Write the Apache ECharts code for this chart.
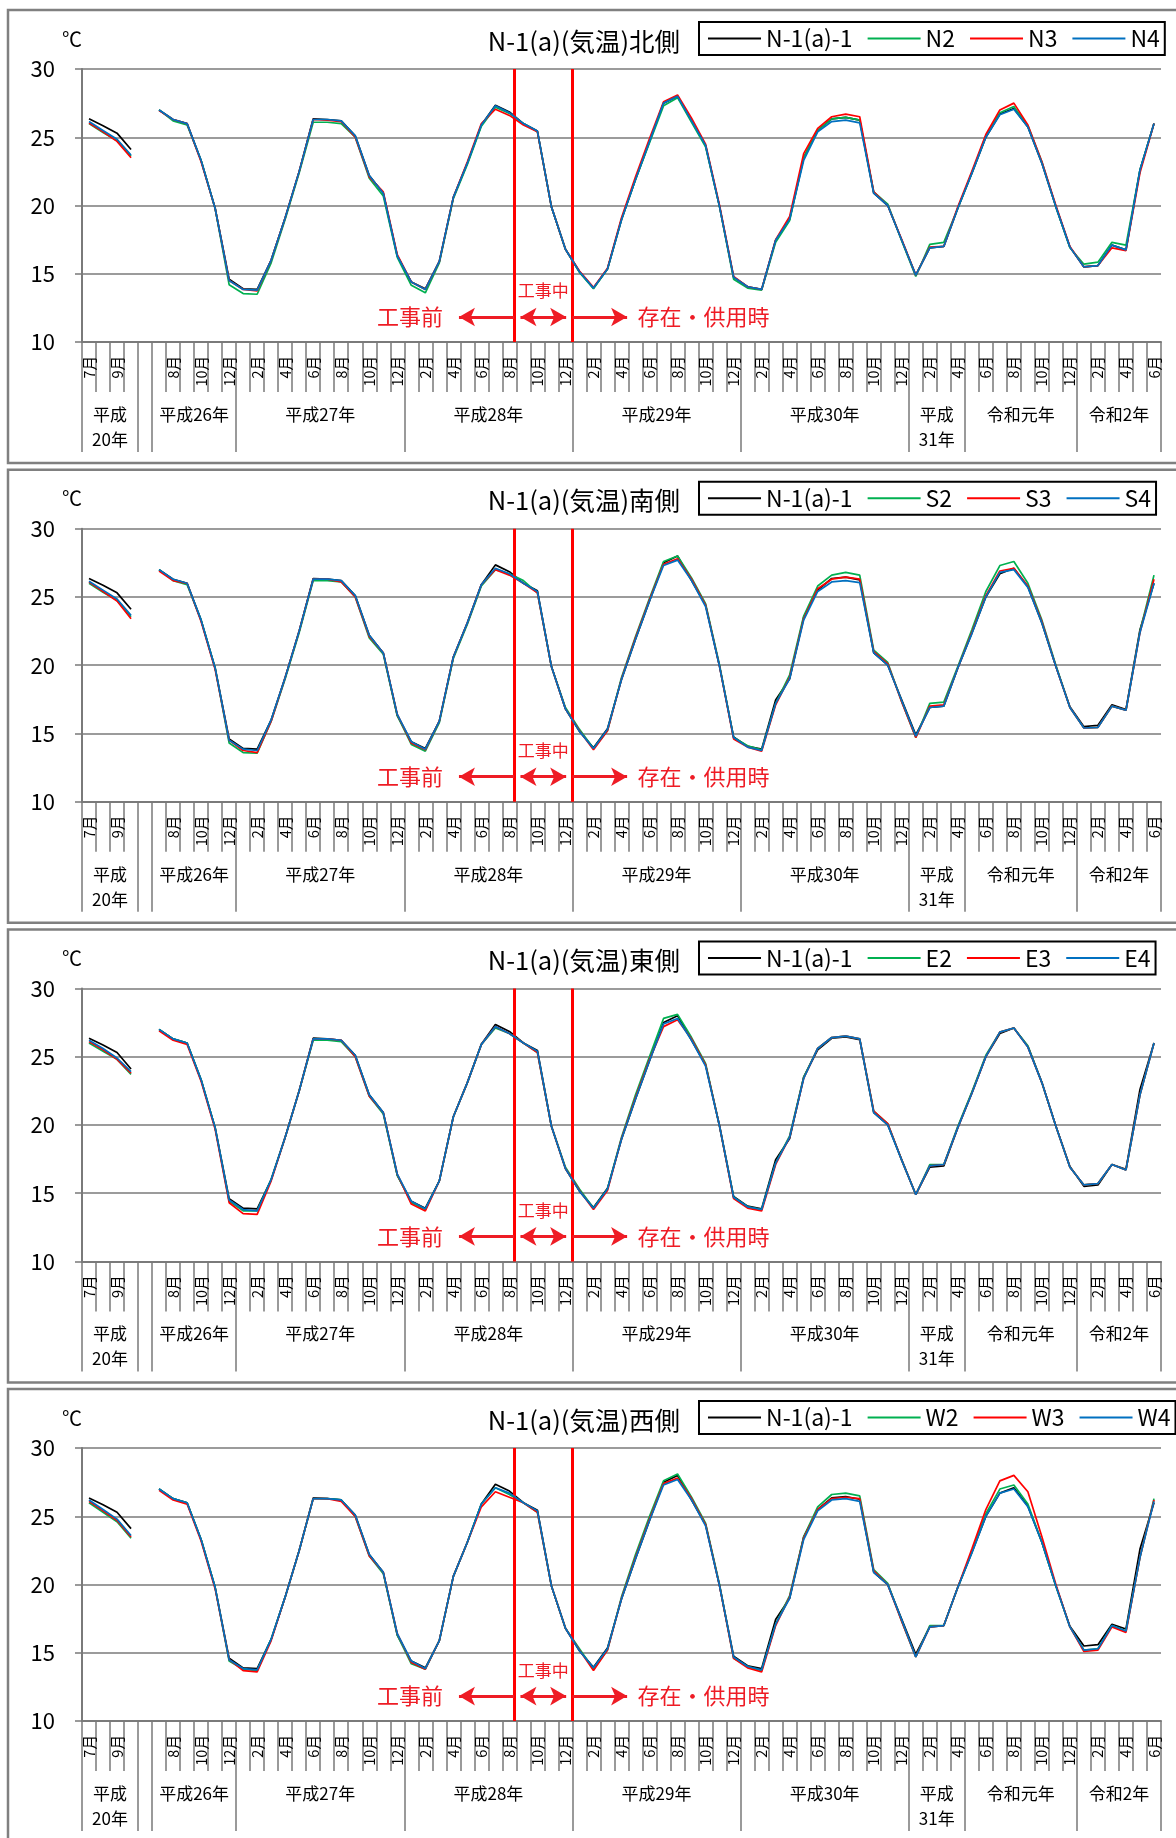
<!DOCTYPE html>
<html><head><meta charset="utf-8">
<script src="https://cdn.jsdelivr.net/npm/echarts@6/dist/echarts.min.js"></script>
<style>html,body{margin:0;padding:0;background:#fff;}#c{width:1176px;height:1838px;}</style>
</head><body><div id="c"></div>
<script>
// ---------- tick labels ----------
const months = [
  '7月','8月','9月','10月',
  '',
  '7月','8月','9月','10月','11月','12月',
  '1月','2月','3月','4月','5月','6月','7月','8月','9月','10月','11月','12月',
  '1月','2月','3月','4月','5月','6月','7月','8月','9月','10月','11月','12月',
  '1月','2月','3月','4月','5月','6月','7月','8月','9月','10月','11月','12月',
  '1月','2月','3月','4月','5月','6月','7月','8月','9月','10月','11月','12月',
  '1月','2月','3月','4月',
  '5月','6月','7月','8月','9月','10月','11月','12月',
  '1月','2月','3月','4月','5月','6月'
];
const yearBounds  = [0, 4, 5, 11, 23, 35, 47, 59, 63, 71, 77];
const yearCenters = [2, 8, 17, 29, 41, 53, 61, 67, 74];
const yearNames   = ['平成\n20年','平成26年','平成27年','平成28年','平成29年','平成30年','平成\n31年','令和元年','令和2年'];
const titles = ['N-1(a)(気温)北側','N-1(a)(気温)南側','N-1(a)(気温)東側','N-1(a)(気温)西側'];
const refName = 'N-1(a)-1';
const siteNames = [['N2','N3','N4'],['S2','S3','S4'],['E2','E3','E4'],['W2','W3','W4']];
const phaseLabels = ['工事前','工事中','存在・供用時'];
const phaseBounds = [30.84, 35];   // construction start / end, in month slots

// ---------- series values (°C) ----------
const ref = [26.35,25.85,25.3,24.1, null,
  27.0,26.3,26.0,23.3,19.8,14.6,
  13.9,13.85,16.0,19.1,22.5,26.35,26.3,26.2,25.1,22.2,20.9,16.3,
  14.4,13.9,15.9,20.6,23.1,25.9,27.35,26.85,26.0,25.45,19.9,16.8,
  15.15,13.95,15.35,18.95,21.9,24.7,27.5,28.0,26.2,24.4,19.9,14.75,
  14.05,13.85,17.45,19.0,23.5,25.5,26.35,26.45,26.25,20.9,20.0,17.45,
  14.9,16.9,17.0,19.8,
  22.35,25.0,26.7,27.1,25.75,23.1,19.9,16.95,
  15.5,15.6,17.1,16.75,22.6,26.0];
const n2 = [26.0,25.35,24.75,23.6, null,
  27.0,26.2,25.9,23.3,19.8,14.2,
  13.55,13.5,15.8,19.0,22.4,26.1,26.1,26.0,25.0,22.0,20.7,16.2,
  14.15,13.6,15.8,20.5,23.0,25.8,27.2,26.75,26.0,25.4,19.9,16.8,
  15.1,13.9,15.35,19.0,21.9,24.6,27.3,27.9,26.1,24.3,19.9,14.6,
  13.95,13.8,17.3,18.9,23.5,25.5,26.35,26.45,26.25,21.0,20.1,17.4,
  14.8,17.15,17.3,19.8,
  22.4,25.1,26.8,27.25,25.85,23.2,19.9,16.9,
  15.7,15.85,17.3,17.1,22.6,26.0];
const n3 = [26.05,25.4,24.7,23.5, null,
  26.95,26.3,26.0,23.2,19.8,14.5,
  13.85,13.75,16.0,19.1,22.5,26.3,26.25,26.15,25.0,22.1,21.0,16.4,
  14.4,13.85,15.9,20.6,23.2,26.0,27.05,26.6,25.9,25.4,19.9,16.8,
  15.2,14.0,15.4,19.1,22.1,24.9,27.6,28.1,26.4,24.5,20.0,14.8,
  14.05,13.85,17.5,19.2,23.8,25.65,26.5,26.7,26.5,21.0,20.0,17.5,
  14.9,16.95,17.0,19.9,
  22.5,25.2,27.0,27.5,25.9,23.2,20.0,17.0,
  15.5,15.6,16.9,16.7,22.4,26.0];
const n4 = [26.15,25.5,24.85,23.7, null,
  27.0,26.3,26.0,23.3,19.8,14.5,
  13.85,13.8,16.0,19.1,22.5,26.3,26.3,26.2,25.1,22.2,20.9,16.3,
  14.4,13.85,15.9,20.6,23.1,25.9,27.3,26.8,26.0,25.45,19.9,16.8,
  15.15,13.95,15.35,18.95,21.9,24.7,27.5,28.0,26.2,24.4,19.9,14.75,
  14.05,13.85,17.45,19.0,23.3,25.4,26.15,26.25,26.05,20.9,20.0,17.45,
  14.9,16.9,17.0,19.8,
  22.35,25.0,26.65,27.05,25.75,23.1,19.9,16.95,
  15.5,15.6,17.1,16.75,22.6,26.0];
const s2 = [26.0,25.35,24.75,23.55, null,
  27.0,26.2,25.9,23.3,19.8,14.3,
  13.6,13.55,15.9,19.0,22.4,26.2,26.2,26.1,25.0,22.0,20.8,16.3,
  14.2,13.7,15.8,20.5,23.0,25.8,27.0,26.7,26.2,25.3,19.9,16.9,
  15.3,13.9,15.2,19.1,22.1,24.9,27.6,28.0,26.4,24.5,20.0,14.7,
  14.1,13.8,17.2,19.3,23.6,25.8,26.6,26.8,26.6,21.1,20.2,17.3,
  14.7,17.2,17.3,19.9,
  22.6,25.4,27.3,27.6,26.0,23.3,20.0,16.9,
  15.4,15.45,17.0,16.7,22.5,26.6];
const s3 = [26.1,25.4,24.7,23.4, null,
  26.9,26.2,26.0,23.2,19.7,14.5,
  13.75,13.6,15.9,19.1,22.5,26.3,26.3,26.1,25.0,22.1,20.9,16.4,
  14.3,13.8,15.9,20.6,23.1,25.9,27.0,26.6,26.0,25.3,19.9,16.8,
  15.2,13.8,15.2,19.0,22.0,24.8,27.4,27.8,26.3,24.4,19.9,14.6,
  14.0,13.7,17.1,19.1,23.4,25.6,26.3,26.45,26.3,21.0,20.1,17.3,
  14.7,17.0,17.1,19.8,
  22.4,25.1,26.9,27.1,25.8,23.2,19.9,16.9,
  15.4,15.45,17.0,16.7,22.4,26.3];
const s4 = [26.15,25.5,24.85,23.65, null,
  27.0,26.3,26.0,23.3,19.8,14.5,
  13.85,13.75,16.0,19.1,22.5,26.3,26.3,26.2,25.1,22.2,20.9,16.4,
  14.4,13.85,15.9,20.6,23.1,25.9,27.1,26.7,26.0,25.4,19.9,16.8,
  15.15,13.9,15.3,18.95,21.9,24.7,27.3,27.7,26.2,24.3,19.9,14.7,
  14.0,13.75,17.2,19.0,23.3,25.4,26.1,26.2,26.05,20.9,20.0,17.4,
  14.8,16.9,17.0,19.8,
  22.3,25.0,26.8,27.0,25.7,23.1,19.9,16.9,
  15.4,15.45,17.0,16.7,22.4,26.0];
const e2 = [26.0,25.4,24.8,23.7, null,
  27.0,26.3,26.0,23.3,19.8,14.4,
  13.7,13.7,16.0,19.1,22.5,26.2,26.2,26.1,25.0,22.1,20.8,16.3,
  14.3,13.8,15.9,20.6,23.1,25.9,27.1,26.7,26.0,25.3,19.9,16.9,
  15.3,13.9,15.3,19.1,22.2,25.0,27.8,28.1,26.4,24.5,19.9,14.7,
  14.0,13.8,17.2,19.2,23.5,25.6,26.4,26.5,26.3,21.0,20.1,17.4,
  14.9,17.1,17.1,19.9,
  22.4,25.1,26.8,27.1,25.8,23.1,19.9,16.9,
  15.6,15.7,17.1,16.7,22.2,26.0];
const e3 = [26.1,25.5,24.8,23.8, null,
  26.9,26.2,25.9,23.2,19.7,14.3,
  13.5,13.45,15.9,19.1,22.5,26.3,26.3,26.2,25.0,22.1,20.9,16.4,
  14.2,13.7,15.9,20.6,23.1,25.9,27.2,26.7,26.0,25.3,19.9,16.8,
  15.2,13.8,15.2,19.0,22.0,24.8,27.2,27.7,26.3,24.4,19.9,14.6,
  13.9,13.7,17.1,19.1,23.4,25.6,26.4,26.5,26.3,21.0,20.1,17.4,
  14.9,17.0,17.1,19.8,
  22.3,25.0,26.8,27.1,25.7,23.1,19.9,16.9,
  15.6,15.7,17.1,16.7,22.2,26.0];
const e4 = [26.2,25.6,24.9,23.9, null,
  27.0,26.3,26.0,23.3,19.8,14.5,
  13.8,13.7,16.0,19.1,22.5,26.3,26.3,26.2,25.1,22.2,20.9,16.4,
  14.4,13.85,15.9,20.6,23.1,25.9,27.2,26.7,26.0,25.4,19.9,16.8,
  15.15,13.9,15.3,18.95,21.9,24.7,27.4,27.8,26.2,24.3,19.9,14.7,
  14.0,13.8,17.2,19.1,23.4,25.6,26.4,26.5,26.3,20.9,20.0,17.4,
  14.9,17.0,17.1,19.8,
  22.3,25.0,26.8,27.1,25.7,23.1,19.9,16.9,
  15.6,15.7,17.1,16.7,22.2,26.0];
const w2 = [26.0,25.3,24.6,23.4, null,
  27.0,26.3,26.0,23.3,19.8,14.4,
  13.8,13.7,16.0,19.1,22.5,26.3,26.3,26.2,25.0,22.1,20.8,16.3,
  14.2,13.8,15.9,20.6,23.1,25.9,27.1,26.6,26.0,25.3,19.9,16.8,
  15.3,13.8,15.2,19.1,22.2,25.0,27.6,28.1,26.4,24.5,20.0,14.6,
  14.0,13.7,17.1,19.2,23.5,25.7,26.6,26.7,26.5,21.1,20.1,17.3,
  14.7,17.0,17.0,19.8,
  22.4,25.2,27.0,27.3,25.9,23.1,19.9,16.9,
  15.2,15.3,17.0,16.6,22.0,26.3];
const w3 = [26.1,25.4,24.7,23.5, null,
  26.9,26.2,25.9,23.2,19.7,14.5,
  13.7,13.6,15.9,19.1,22.5,26.3,26.3,26.1,25.0,22.1,20.9,16.4,
  14.3,13.8,15.9,20.6,23.1,25.7,26.8,26.4,26.0,25.3,19.9,16.8,
  15.2,13.7,15.2,19.0,22.0,24.8,27.4,27.8,26.3,24.4,19.9,14.6,
  13.9,13.6,17.0,19.1,23.4,25.5,26.3,26.4,26.3,21.0,20.0,17.3,
  14.7,16.9,17.0,19.8,
  22.6,25.5,27.6,28.0,26.8,23.5,20.0,16.9,
  15.1,15.2,16.9,16.5,22.0,26.2];
const w4 = [26.2,25.5,24.8,23.6, null,
  27.0,26.3,26.0,23.3,19.8,14.5,
  13.85,13.75,16.0,19.1,22.5,26.3,26.3,26.2,25.1,22.2,20.9,16.4,
  14.4,13.85,15.9,20.6,23.1,25.9,27.1,26.7,26.0,25.4,19.9,16.8,
  15.15,13.9,15.3,18.95,21.9,24.7,27.3,27.7,26.2,24.3,19.9,14.7,
  14.0,13.75,17.1,19.0,23.3,25.4,26.2,26.3,26.1,20.9,20.0,17.4,
  14.7,16.9,17.0,19.8,
  22.3,25.0,26.7,27.0,25.7,23.1,19.9,16.9,
  15.2,15.3,17.0,16.6,22.0,26.1];
const panelData = [[n2,n3,n4],[s2,s3,s4],[e2,e3,e4],[w2,w3,w4]];

// ---------- layout / style ----------
const FONT = '"Noto Sans CJK JP","Noto Sans",sans-serif';
const STEP = 459.7;
const GL = 82, GT = 69, GW = 1079, GH = 273;
const GRAY = '#7a7a7a';
const RED = '#ff0000', RED_TXT = '#ee1c25';
const COLORS = ['#000000','#00b050','#ff0000','#0070c0'];
const ARROW_Y = 11.83, MID_Y = 13.74;

const option = {animation:false, grid:[], xAxis:[], yAxis:[], series:[], legend:[], graphic:[]};

for (let p = 0; p < 4; p++) {
  const dy = p * STEP;
  option.grid.push({left:GL, top:GT + dy, width:GW, height:GH});
  option.xAxis.push({
    type:'category', gridIndex:p, data:months, boundaryGap:true, position:'bottom',
    axisLine:{lineStyle:{color:GRAY, width:2}},
    axisTick:{show:true, interval:0, length:50, lineStyle:{color:GRAY, width:1.5}},
    axisLabel:{interval:1, rotate:90, margin:14, fontSize:14.5, color:'#000', fontFamily:FONT},
    splitLine:{show:false}
  });
  option.xAxis.push({
    type:'value', gridIndex:p, position:'bottom', min:0, max:77,
    axisLine:{show:false}, splitLine:{show:false},
    axisTick:{show:true, customValues:yearBounds, length:110, lineStyle:{color:GRAY, width:1.5}},
    axisLabel:{customValues:yearCenters, formatter:v => yearNames[yearCenters.indexOf(v)] || '',
      margin:60, fontSize:17, lineHeight:25, color:'#000', fontFamily:FONT}
  });
  option.yAxis.push({
    type:'value', gridIndex:p, min:10, max:30, interval:5,
    name:'℃', nameLocation:'end', nameGap:20,
    nameTextStyle:{fontSize:20, align:'right', color:'#000', fontFamily:FONT},
    axisLine:{show:true, lineStyle:{color:GRAY, width:2}},
    axisTick:{show:true, length:7, lineStyle:{color:GRAY, width:1.5}},
    axisLabel:{fontSize:22, margin:27, color:'#000', fontFamily:FONT},
    splitLine:{show:true, lineStyle:{color:GRAY, width:1.5}}
  });
  const names = [refName].concat(siteNames[p]);
  const datas = [ref].concat(panelData[p]);
  names.forEach((nm, k) => {
    option.series.push({
      type:'line', name:nm, xAxisIndex:2*p, yAxisIndex:p, data:datas[k],
      symbol:'none', connectNulls:false,
      lineStyle:{color:COLORS[k], width:1.7}, itemStyle:{color:COLORS[k]}, z:2+k
    });
  });
  const redLine = {color:RED, width:3, type:'solid'};
  const arrowLine = {color:RED_TXT, width:3, type:'solid'};
  option.series.push({
    type:'line', xAxisIndex:2*p+1, yAxisIndex:p, data:[], silent:true, z:10,
    markLine:{silent:true, animation:false, symbol:['none','none'], symbolSize:[14,16], label:{show:false},
      data:[
        {xAxis:phaseBounds[0], lineStyle:redLine},
        {xAxis:phaseBounds[1], lineStyle:redLine},
        [{coord:[phaseBounds[0], ARROW_Y], symbol:'none', lineStyle:arrowLine}, {coord:[26.9, ARROW_Y], symbol:'arrow'}],
        [{coord:[phaseBounds[0]+0.45, ARROW_Y], symbol:'arrow', lineStyle:arrowLine}, {coord:[phaseBounds[1]-0.45, ARROW_Y], symbol:'arrow'}],
        [{coord:[phaseBounds[1], ARROW_Y], symbol:'none', lineStyle:arrowLine}, {coord:[38.9, ARROW_Y], symbol:'arrow'}]
      ]},
    markPoint:{silent:true, animation:false, symbol:'circle', symbolSize:1, itemStyle:{color:'rgba(0,0,0,0)'},
      data:[
        {coord:[23.4, ARROW_Y], label:{show:true, position:'inside', formatter:phaseLabels[0], color:RED_TXT, fontSize:22, fontFamily:FONT}},
        {coord:[(phaseBounds[0]+phaseBounds[1])/2, MID_Y], label:{show:true, position:'inside', formatter:phaseLabels[1], color:RED_TXT, fontSize:17, fontFamily:FONT}},
        {coord:[44.36, ARROW_Y], label:{show:true, position:'inside', formatter:phaseLabels[2], color:RED_TXT, fontSize:22, fontFamily:FONT}}
      ]}
  });
  option.legend.push({
    data:names, left:699, top:22 + dy, orient:'horizontal', selectedMode:false,
    icon:'rect', itemWidth:53, itemHeight:2, itemGap:15,
    textStyle:{fontSize:23, color:'#000', fontFamily:FONT},
    borderColor:'#000', borderWidth:2, padding:[5,5,5,9]
  });
  option.graphic.push({type:'rect', silent:true, shape:{x:8, y:10 + dy, width:1200, height:453},
    style:{fill:'none', stroke:'#808080', lineWidth:2.5}});
  option.graphic.push({type:'text', silent:true, x:680, y:41 + dy,
    style:{text:titles[p], fill:'#000', font:'25.5px ' + FONT, textAlign:'right', textVerticalAlign:'middle'}});
}

const chart = echarts.init(document.getElementById('c'), null, {renderer:'canvas'});
chart.setOption(option);
</script></body></html>
